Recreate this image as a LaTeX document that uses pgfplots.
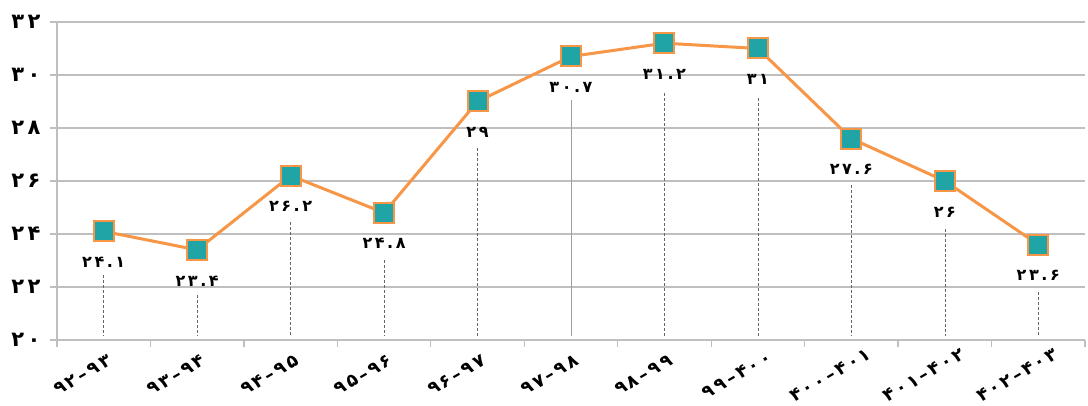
\documentclass[border=0pt]{standalone}
\usepackage{pgfplots}
\pgfplotsset{compat=1.18}
\usepackage{fontspec}
\setmainfont{DejaVu Sans}
\newfontfamily\pf[LetterSpace=16]{DejaVu Sans}
\newfontfamily\px[LetterSpace=14]{DejaVu Sans}
\definecolor{lineor}{HTML}{F79646}
\definecolor{tealm}{HTML}{20A4A6}
\definecolor{gridc}{HTML}{BFBFBF}
\begin{document}
\begin{tikzpicture}
\useasboundingbox (-57pt,-66pt) rectangle (1031pt,340pt);
\begin{axis}[
  scale only axis, width=1028pt, height=318pt,
  xmin=-0.5, xmax=10.5, ymin=20, ymax=32,
  axis x line*=bottom, axis y line*=left,
  axis line style={draw=gridc, line width=1.2pt},
  ytick={20,22,...,32},
  yticklabels={۲۰,۲۲,۲۴,۲۶,۲۸,۳۰,۳۲},
  xtick={0,...,10},
  xticklabels={۹۲–۹۳,۹۳–۹۴,۹۴–۹۵,۹۵–۹۶,۹۶–۹۷,۹۷–۹۸,۹۸–۹۹,۹۹–۴۰۰,۴۰۰–۴۰۱,۴۰۱–۴۰۲,۴۰۲–۴۰۳},
  minor xtick={-0.5,0.5,...,10.5},
  tick align=outside,
  major x tick style={draw=none},
  minor tick length=7pt,
  major tick length=7pt,
  tick style={draw=gridc, line width=1.2pt},
  ymajorgrids, grid style={draw=gridc, line width=1.2pt},
  yticklabel style={font=\pf\fontsize{21}{25}\selectfont\bfseries, xshift=-6pt},
  xticklabel style={font=\px\fontsize{18}{22}\selectfont\bfseries, anchor=center, xshift=-21pt, yshift=-28pt, rotate=30},
  clip=false,
]
\addplot[densely dashed, draw=gray!80!black, line width=0.6pt, unbounded coords=jump] coordinates {
 (0,22.45) (0,20.15) (0,nan)
 (1,21.70) (1,20.15) (1,nan)
 (2,24.45) (2,20.15) (2,nan)
 (3,23.02) (3,20.15) (3,nan)
 (4,27.25) (4,20.15) (4,nan)
 (6,29.32) (6,20.15) (6,nan)
 (7,29.13) (7,20.15) (7,nan)
 (8,25.85) (8,20.15) (8,nan)
 (9,24.19) (9,20.15) (9,nan)
 (10,21.81) (10,20.15)
};
\addplot[solid, draw=gray!75, line width=0.8pt] coordinates {(5,29.06) (5,20.15)};
\addplot[draw=lineor, line width=3pt, mark=square*, mark size=10pt,
  mark options={solid, fill=tealm, draw=lineor, line width=2pt},
  nodes near coords, point meta=explicit symbolic,
  every node near coord/.append style={font=\pf\fontsize{16}{19}\selectfont\bfseries, text=black, anchor=center, yshift=-31pt}]
coordinates {
 (0,24.1) [۲۴.۱]
 (1,23.4) [۲۳.۴]
 (2,26.2) [۲۶.۲]
 (3,24.8) [۲۴.۸]
 (4,29.0) [۲۹]
 (5,30.7) [۳۰.۷]
 (6,31.2) [۳۱.۲]
 (7,31.0) [۳۱]
 (8,27.6) [۲۷.۶]
 (9,26.0) [۲۶]
 (10,23.6) [۲۳.۶]
};
\end{axis}
\end{tikzpicture}
\end{document}
